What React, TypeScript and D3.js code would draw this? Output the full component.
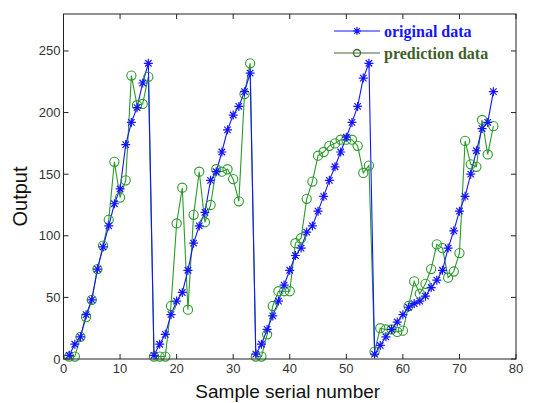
import * as d3 from "d3";
import React from "react";

const xs = d3.range(1, 77);

const original = [
  3, 12, 18, 36, 48, 73, 91, 108, 126, 138, 174, 192, 204, 224, 240,
  3, 12, 20, 36, 47, 54, 72, 94, 108, 119, 145, 152, 168, 186, 198, 205, 217, 232,
  4, 12, 24, 35, 47, 60, 72, 84, 90, 103, 108, 120, 132, 145, 156, 168, 180, 192, 205, 228, 240,
  4, 11, 18, 24, 30, 36, 42, 45, 47, 51, 58, 64, 72, 90, 104, 120, 132, 150, 169, 187, 192, 217,
];

const prediction = [
  2, 2, 18, 34, 48, 73, 92, 113, 160, 131, 145, 230, 206, 207, 229,
  2, 2, 2, 43, 110, 139, 40, 117, 152, 111, 125, 154, 152, 154, 146, 128, 215, 240,
  2, 2, 20, 43, 55, 55, 55, 94, 98, 130, 144, 165, 168, 173, 175, 178, 178, 178, 173, 151, 157,
  6, 25, 24, 24, 22, 23, 43, 63, 53, 61, 73, 93, 90, 66, 71, 86, 177, 158, 156, 194, 166, 189,
];

const xTicks = [0, 10, 20, 30, 40, 50, 60, 70, 80];
const yTicks = [0, 50, 100, 150, 200, 250];

const W = 556;
const H = 403;
const m = { left: 63.5, right: 40, top: 14, bottom: 44 };

const BLUE = "#1414ff";
const GREEN = "#2a9a2a";

const Star = ({ x, y, s = 4.5 }: { x: number; y: number; s?: number }) => {
  const d = s * 0.72;
  return (
    <path
      d={`M${x - s},${y}H${x + s}M${x},${y - s}V${y + s}M${x - d},${y - d}L${x + d},${y + d}M${x - d},${y + d}L${x + d},${y - d}`}
      stroke={BLUE}
      strokeWidth={1.2}
      fill="none"
    />
  );
};

export default function App() {
  const x = d3.scaleLinear().domain([0, 80]).range([m.left, W - m.right]);
  const y = d3.scaleLinear().domain([0, 280]).range([H - m.bottom, m.top]);

  const line = d3
    .line<number>()
    .x((_, i) => x(xs[i]))
    .y((v) => y(v));

  const [x0, x1] = x.range();
  const [y0, y1] = y.range();
  const tickFont = "'Liberation Sans', Arial, sans-serif";

  return (
    <div style={{ position: "absolute", left: 0, top: 0 }}>
      <svg width={W} height={H} style={{ display: "block", background: "#fff" }}>
        <path d={line(prediction) || ""} fill="none" stroke={GREEN} strokeWidth={1.1} />
        <path d={line(original) || ""} fill="none" stroke={BLUE} strokeWidth={1.1} />
        {prediction.map((v, i) => (
          <circle key={"c" + i} cx={x(xs[i])} cy={y(v)} r={4.6} fill="none" stroke={GREEN} strokeWidth={1.1} />
        ))}
        {original.map((v, i) => (
          <Star key={"s" + i} x={x(xs[i])} y={y(v)} />
        ))}

        {/* frame */}
        <rect x={x0} y={y1} width={x1 - x0} height={y0 - y1} fill="none" stroke="#222" strokeWidth={1} />
        {xTicks.map((t) => (
          <g key={"xt" + t}>
            <line x1={x(t)} x2={x(t)} y1={y0} y2={y0 - 5} stroke="#222" />
            <line x1={x(t)} x2={x(t)} y1={y1} y2={y1 + 5} stroke="#222" />
            <text x={x(t)} y={y0 + 14} textAnchor="middle" fontFamily={tickFont} fontSize={13} fill="#333">
              {t}
            </text>
          </g>
        ))}
        {yTicks.map((t) => (
          <g key={"yt" + t}>
            <line x1={x0} x2={x0 + 5} y1={y(t)} y2={y(t)} stroke="#222" />
            <line x1={x1} x2={x1 - 5} y1={y(t)} y2={y(t)} stroke="#222" />
            <text x={x0 - 3} y={y(t) + 4.5} textAnchor="end" fontFamily={tickFont} fontSize={13} fill="#333">
              {t}
            </text>
          </g>
        ))}

        <text x={(x0 + x1) / 2 - 2} y={H - 5} textAnchor="middle" fontFamily={tickFont} fontSize={19} fill="#111">
          Sample serial number
        </text>
        <text
          transform={`translate(27,${(y0 + y1) / 2 + 10}) rotate(-90)`}
          textAnchor="middle"
          fontFamily={tickFont}
          fontSize={20}
          fill="#111"
        >
          Output
        </text>

        {/* legend */}
        <g>
          <line x1={334} x2={380} y1={31} y2={31} stroke={BLUE} strokeWidth={1.1} />
          <Star x={357} y={31} s={4} />
          <text x={384} y={36.5} fontFamily="'Liberation Serif', 'Times New Roman', serif" fontWeight="bold" fontSize={16} fill={BLUE}>
            original data
          </text>
          <line x1={334} x2={380} y1={53} y2={53} stroke="#3f6a30" strokeWidth={1.1} />
          <circle cx={357} cy={53} r={3.5} fill="none" stroke="#3f6a30" strokeWidth={1.3} />
          <text x={384} y={58.5} fontFamily="'Liberation Serif', 'Times New Roman', serif" fontWeight="bold" fontSize={16} fill="#3f5f2c">
            prediction data
          </text>
        </g>
      </svg>
    </div>
  );
}
